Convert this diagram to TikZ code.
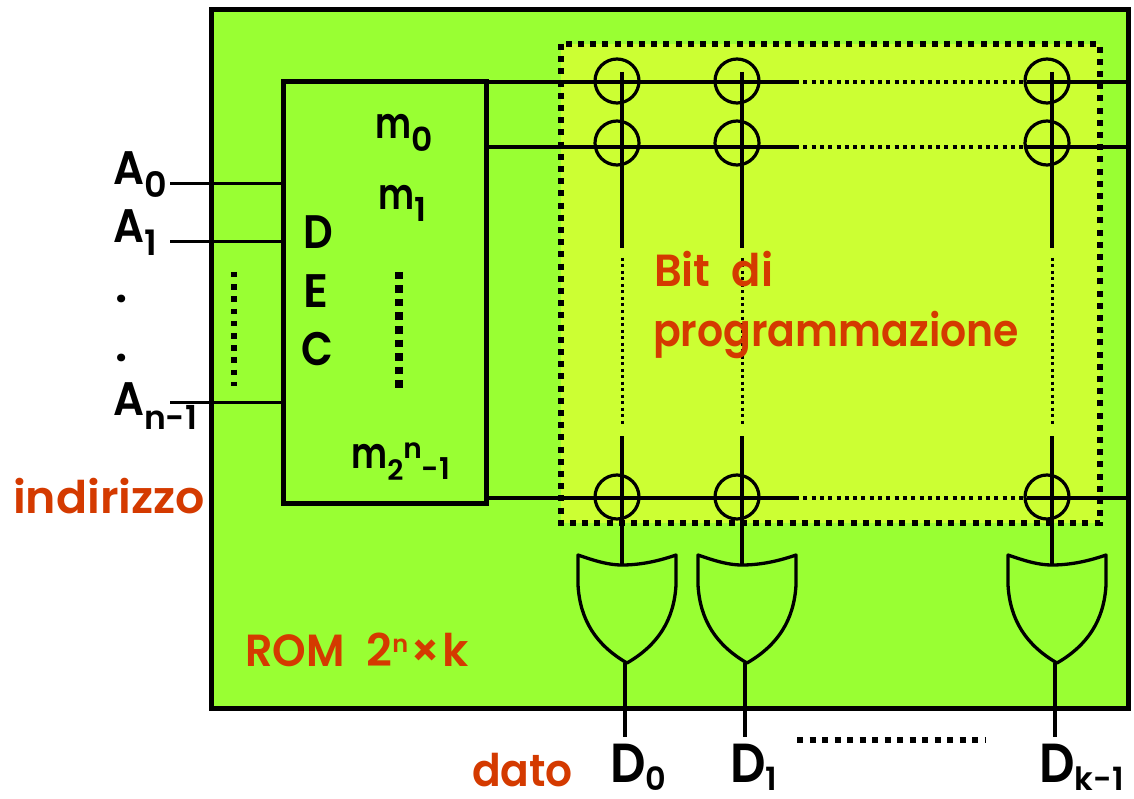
\documentclass[tikz,border=0pt]{standalone}
\usepackage{fontspec}
\usepackage{graphicx}
\setmainfont{Poppins}[UprightFont=* SemiBold,BoldFont=* Bold]
\definecolor{romgreen}{HTML}{99FF33}
\definecolor{bityellow}{HTML}{CCFF33}
\definecolor{labelred}{HTML}{D43A00}
\newcommand{\sx}[2]{\scalebox{#1}[1]{#2}}
\newcommand{\sbs}[3]{\raisebox{#1}{\fontsize{#2}{#2}\selectfont #3}}
\tikzset{
  x=1pt,y=-1pt,
  wire/.style={draw=black,line width=3.2pt},
  thinwire/.style={draw=black,line width=3pt},
  boxline/.style={draw=black,line width=5pt,outer sep=0pt},
  cell/.style={circle,draw=black,line width=3.2pt,minimum size=44pt,inner sep=0pt},
  gateline/.style={draw=black,line width=3.3pt,line join=round,fill=romgreen},
  heavydots/.style={draw=black,line width=6pt,dash pattern=on 6pt off 6.2pt},
  blacktxt/.style={inner sep=0pt,anchor=base west,font=\fontsize{47}{47}\selectfont,text=black},
  smalltxt/.style={blacktxt,font=\fontsize{43}{43}\selectfont},
  redtxt/.style={inner sep=0pt,anchor=base west,font=\fontsize{45}{45}\selectfont,text=labelred},
  bigtxt/.style={blacktxt,font=\fontsize{55}{55}\selectfont},
}
\newcommand{\orgate}[2]{% name, left x
  \coordinate (#1top) at (#2+44,565);
  \coordinate (#1tip) at (#2+49,663);
  \path[gateline] (#2,555) .. controls (#2+20,562) and (#2+32,565) .. (#1top)
    .. controls (#2+60,565) and (#2+78,562) .. (#2+98,555)
    -- (#2+98,585) .. controls (#2+96,620) and (#2+80,645) .. (#1tip)
    .. controls (#2+18,645) and (#2+2,620) .. (#2,585) -- cycle;
}
\begin{document}
\begin{tikzpicture}
\useasboundingbox (0,0) rectangle (1134,799);
% outer body and programming area
\node[boxline,fill=romgreen,inner sep=0pt,minimum width=917pt,minimum height=698pt,anchor=north west] (rom) at (211,10) {};
\fill[bityellow] (561,44) rectangle (1100,523);

% connection points
\foreach \n/\yy in {a/82,b/147,c/498}{
  \coordinate (\n s) at (486,\yy);
  \coordinate (\n p) at (795,\yy);
  \coordinate (\n q) at (1030,\yy);
  \coordinate (\n e) at (1128,\yy);
}
\foreach \n/\xx in {p/622,q/742,r/1052}{
  \coordinate (\n t) at (\xx,72);
  \coordinate (\n u) at (\xx,248);
  \coordinate (\n v) at (\xx,258);
  \coordinate (\n w) at (\xx,424);
  \coordinate (\n x) at (\xx,436);
}
% rows
\foreach \n in {a,b,c}{
  \draw[wire] (\n s) -- (\n p);
  \draw[draw=black,line width=3.6pt,dash pattern=on 4pt off 4.3pt] (\n p) -- (\n q);
  \draw[wire] (\n q) -- (\n e);
}
% cells
\foreach \c/\xx in {p/617,q/737,r/1047}{
  \node[cell] (\c1) at (\xx,81) {};
  \node[cell] (\c2) at (\xx,143) {};
  \node[cell] (\c3) at (\xx,497) {};
}
% gates
\orgate{gp}{578}
\orgate{gq}{698}
\orgate{gr}{1008}
% columns
\foreach \n in {p,q,r}{
  \draw[wire] (\n t) -- (\n u);
  \draw[draw=black,line width=3pt,dash pattern=on 3pt off 3.5pt] (\n v) -- (\n w);
  \draw[wire] (\n x) -- (g\n top);
}
% dotted programming frame
\draw[heavydots] (561,44) rectangle (1100,523);

% decoder
\node[boxline,fill=romgreen,inner sep=0pt,minimum width=203pt,minimum height=421pt,anchor=north west] (dec) at (283,82) {};
\foreach \n/\xx in {p/625,q/745,r/1055}{
  \node[inner sep=0pt,minimum size=0pt] (out\n) at (\xx,737) {};
  \draw[wire] (g\n tip -| out\n) -- (out\n);
}
% address lines
\foreach \n/\yy in {0/184,1/242,2/402}{
  \coordinate (addr\n) at (170,\yy);
  \coordinate (dec\n) at (281,\yy);
  \draw[thinwire] (addr\n) -- (dec\n);
}
% dotted ellipses
\coordinate (ld1) at (234,272); \coordinate (ld2) at (234,386);
\draw[draw=black,line width=5.5pt,dash pattern=on 5.5pt off 6.7pt] (ld1) -- (ld2);
\coordinate (md1) at (399,272); \coordinate (md2) at (399,388);
\draw[draw=black,line width=7.5pt,dash pattern=on 7.5pt off 6pt] (md1) -- (md2);
\coordinate (bd1) at (797,740); \coordinate (bd2) at (985,740);
\draw[draw=black,line width=5.5pt,dash pattern=on 6pt off 6.5pt] (bd1) -- (bd2);

% labels
\node[blacktxt] (A0) at (113,185) {\sx{0.92}{A}\sbs{-13pt}{35}{0}};
\node[blacktxt] (A1) at (113,243) {\sx{0.92}{A}\sbs{-13pt}{35}{1}};
\node[blacktxt] (dot1) at (115,303) {.};
\node[blacktxt] (dot2) at (115,361) {.};
\node[blacktxt] (An) at (113,415) {\sx{0.92}{A}\sbs{-14pt}{33}{n-1}};
\node[blacktxt] (D) at (303,249) {\sx{0.88}{D}};
\node[blacktxt] (E) at (303,308) {E};
\node[blacktxt] (C) at (301,365) {\sx{0.88}{C}};
\node[smalltxt] (m0) at (375,139) {\sx{0.8}{m}\sbs{-13pt}{33}{0}};
\node[smalltxt] (m1) at (378,210) {\sx{0.8}{m}\sbs{-12pt}{33}{1}};
\node[smalltxt] (m2) at (351,468) {\sx{0.8}{m}\sbs{-12pt}{28}{2}\sbs{10pt}{28}{n}\sbs{-11pt}{30}{-1}};
\node[redtxt] (indirizzo) at (13,513) {\sx{1.02}{indirizzo}};
\node[redtxt] (romlabel) at (245,666) {\sx{0.95}{ROM}\hspace{22pt}2\sbs{14pt}{24}{n}\hspace{2pt}×\hspace{2pt}k};
\node[redtxt] (bit) at (654,287) {\sx{0.96}{Bit}\hspace{21pt}\sx{0.96}{di}};
\node[redtxt] (prog) at (653,346) {\sx{0.91}{programmazione}};
\node[redtxt] (dato) at (472,786) {\sx{0.94}{dato}};
\node[bigtxt] (D0) at (610,782) {\sx{0.9}{D}\sbs{-8pt}{32}{0}};
\node[bigtxt] (D1) at (730,782) {\sx{0.9}{D}\sbs{-8pt}{32}{1}};
\node[bigtxt] (Dk) at (1039,782) {\sx{0.9}{D}\sbs{-8pt}{32}{k-1}};
\end{tikzpicture}
\end{document}
